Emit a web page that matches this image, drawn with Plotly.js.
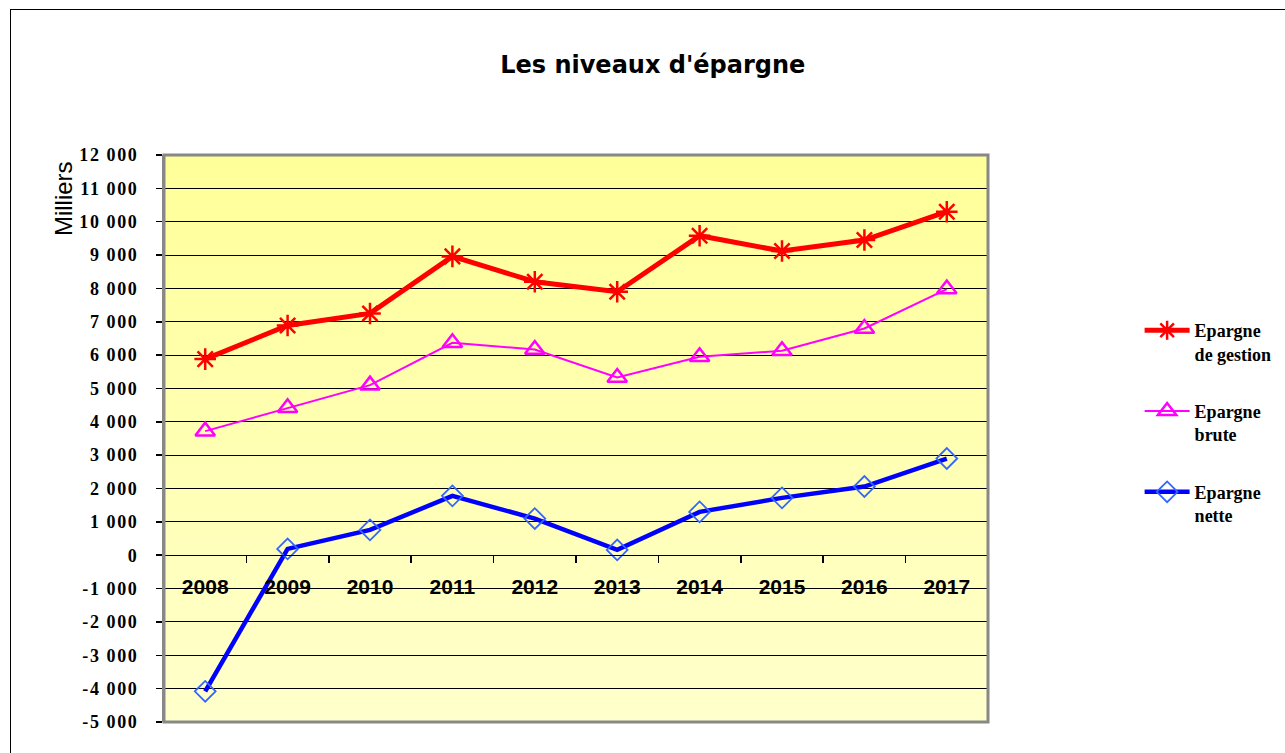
<!DOCTYPE html>
<html>
<head>
<meta charset="utf-8">
<script src="https://cdn.plot.ly/plotly-3.0.1.min.js"></script>
<style>
  html, body { margin:0; padding:0; background:#ffffff; width:1285px; height:753px; overflow:hidden; }
  #frame { position:absolute; left:10px; top:9px; width:1400px; height:900px; border-top:1.5px solid #000; border-left:1.5px solid #000; }
  #grad { position:absolute; left:164px; top:155px; width:824px; height:567px;
          background: linear-gradient(to bottom, #ffff99 0%, #ffffcc 100%); }
  #chart { position:absolute; left:0; top:0; width:1285px; height:753px; }
  #chart .ytick text { letter-spacing: 1.6px; }
</style>
</head>
<body>
<div id="frame"></div>
<div id="grad"></div>
<div id="chart"></div>
<script>
const years = ['2008','2009','2010','2011','2012','2013','2014','2015','2016','2017'];
const epargneGestion = [5880, 6890, 7250, 8960, 8200, 7900, 9580, 9120, 9450, 10300];
const epargneBrute   = [3720, 4420, 5100, 6370, 6170, 5330, 5950, 6130, 6800, 7980];
const epargneNette   = [-4080, 190, 760, 1780, 1100, 160, 1300, 1720, 2060, 2900];
const yTickVals  = [12000, 11000, 10000, 9000, 8000, 7000, 6000, 5000, 4000, 3000, 2000, 1000, 0, -1000, -2000, -3000, -4000, -5000];
const yTickText  = ['12 000','11 000','10 000','9 000','8 000','7 000','6 000','5 000','4 000','3 000','2 000','1 000','0','-1 000','-2 000','-3 000','-4 000','-5 000'];
const seriesNames = ['Epargne<br>de gestion', 'Epargne<br>brute', 'Epargne<br>nette'];

const traces = [
  { x: years, y: epargneGestion, name: seriesNames[0], type: 'scatter', mode: 'lines+markers',
    legendgroup: 'g1',
    line: { color: '#ff0000', width: 5 },
    marker: { symbol: 'asterisk-open', size: 18, color: '#ff0000', line: { color: '#ff0000', width: 2.5 } } },
  { x: years, y: epargneBrute, name: seriesNames[1], type: 'scatter', mode: 'lines+markers',
    legendgroup: 'g2',
    line: { color: '#ff00ff', width: 2 },
    marker: { symbol: 'triangle-up-open', size: 17, color: '#ff00ff', line: { color: '#ff00ff', width: 2.5 } } },
  { x: years, y: epargneNette, name: seriesNames[2], type: 'scatter', mode: 'lines+markers',
    legendgroup: 'g3',
    line: { color: '#0000ff', width: 4.5 },
    marker: { symbol: 'diamond-open', size: 16, color: '#3366ff', line: { color: '#3366ff', width: 1.8 } } }
];

const layout = {
  width: 1285, height: 753,
  paper_bgcolor: 'rgba(0,0,0,0)', plot_bgcolor: 'rgba(0,0,0,0)',
  margin: { l: 164, r: 297, t: 155, b: 31, pad: 0, autoexpand: false },
  title: { text: "Les niveaux d'épargne", x: 0.508, xanchor: 'center', y: 0.914, yanchor: 'middle',
           font: { family: 'DejaVu Sans', size: 24, color: '#000', weight: 'bold' } },
  showlegend: true,
  legend: { x: 1.184, xanchor: 'left', y: 0.723, yanchor: 'top', valign: 'top',
            tracegroupgap: 31, bgcolor: 'rgba(0,0,0,0)', itemwidth: 45,
            font: { family: 'Liberation Serif', size: 18, color: '#000', weight: 'bold' } },
  xaxis: {
    type: 'category', range: [-0.5, 9.5], anchor: 'free', position: 5/17,
    showgrid: false, showline: true, linecolor: '#000', linewidth: 1,
    ticks: 'outside', ticklen: 7, tickcolor: '#000', tickwidth: 1.5, tickson: 'boundaries',
    ticklabelstandoff: 13,
    tickfont: { family: 'Liberation Sans', size: 21, color: '#000', weight: 'bold' },
    zeroline: false, fixedrange: true
  },
  yaxis: {
    range: [-5000, 12000], domain: [0, 1],
    tickvals: yTickVals, ticktext: yTickText,
    showgrid: true, gridcolor: '#000', gridwidth: 1,
    zeroline: false,
    showline: true, linecolor: '#888', linewidth: 2,
    ticks: 'outside', ticklen: 6, tickcolor: '#000', tickwidth: 1.5,
    ticklabelstandoff: 14,
    tickfont: { family: 'Liberation Serif', size: 18, color: '#000', weight: 'bold' },
    fixedrange: true
  },
  shapes: [
    { type: 'rect', xref: 'paper', yref: 'paper', x0: 0, x1: 1, y0: 0, y1: 1,
      line: { color: '#888', width: 3 }, fillcolor: 'rgba(0,0,0,0)', layer: 'above' }
  ],
  annotations: [
    { text: 'Milliers', xref: 'paper', yref: 'paper', x: -0.1226, y: 0.924, textangle: -90,
      showarrow: false, xanchor: 'center', yanchor: 'middle',
      font: { family: 'Liberation Sans', size: 24, color: '#000' } }
  ]
};

Plotly.newPlot('chart', traces, layout, { displayModeBar: false, staticPlot: true });
</script>
</body>
</html>
